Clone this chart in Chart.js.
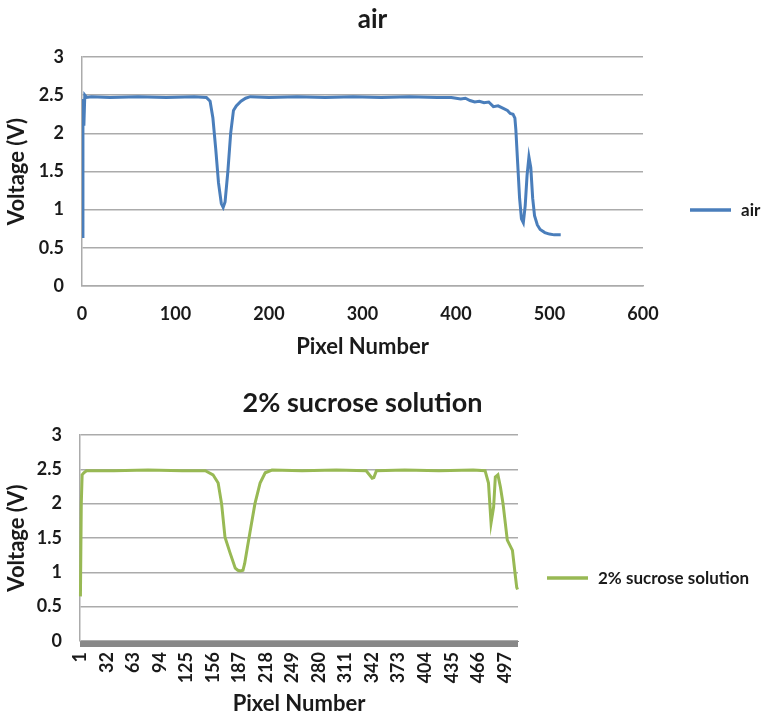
<!DOCTYPE html>
<html>
<head>
<meta charset="utf-8">
<script src="https://cdn.jsdelivr.net/npm/chart.js@4.4.1/dist/chart.umd.min.js"></script>
<style>
    html, body { margin: 0; padding: 0; background: #fff; }
    .wrap { position: absolute; left: 0; width: 765px; }
</style>
</head>
<body>
<div class="wrap" style="top:0;height:360px"><canvas id="grafikHava"></canvas></div>
<div class="wrap" style="top:360px;height:357px"><canvas id="grafikSukroz"></canvas></div>
<script>
// --- veriler ---
const voltTicks = [0, 0.5, 1, 1.5, 2, 2.5, 3];
const pixelTicks = [0, 100, 200, 300, 400, 500, 600];

// hava (air) egrisi: piksel numarasi / voltaj
const airPixel = [0, 1, 2, 3, 5, 10, 30, 60, 90, 120, 133, 137, 140, 143, 146, 149, 151, 153, 156, 159, 162, 165, 170, 175, 180,
    200, 230, 260, 290, 320, 350, 380, 395, 405, 410, 415, 420, 425, 430, 435, 440, 445, 450, 455, 458, 461, 463, 464, 466, 468,
    470, 472, 474, 476, 478, 480, 482, 484, 487, 490, 495, 500, 505, 512];
const airVoltage = [0.65, 2.45, 2.1, 2.5, 2.47, 2.48, 2.47, 2.48, 2.47, 2.48, 2.47, 2.42, 2.2, 1.8, 1.35, 1.08, 1.03, 1.1, 1.5, 2.0, 2.3, 2.36, 2.42, 2.46, 2.48,
    2.47, 2.48, 2.47, 2.48, 2.47, 2.48, 2.47, 2.47, 2.45, 2.46, 2.43, 2.41, 2.42, 2.4, 2.41, 2.35, 2.36, 2.33, 2.3, 2.26, 2.25, 2.2, 2.05, 1.6, 1.15,
    0.88, 0.83, 1.05, 1.45, 1.69, 1.55, 1.15, 0.92, 0.8, 0.74, 0.7, 0.68, 0.67, 0.67];

// %2 sukroz cozeltisi: kategori ekseni 1..512
const sucroseCategories = Array.from({ length: 512 }, (_, i) => String(i + 1));
const sucroseTickLabels = ['1', '32', '63', '94', '125', '156', '187', '218', '249', '280', '311', '342', '373', '404', '435', '466', '497'];
const sucrosePixel = [1, 2, 3, 5, 8, 40, 80, 120, 147, 156, 162, 166, 170, 176, 182, 185, 188, 191, 193, 196, 199, 205, 211, 217, 225,
    260, 300, 335, 342, 344, 347, 380, 420, 460, 474, 478, 481, 484, 486, 489, 492, 495, 500, 506, 509, 511, 512];
const sucroseVoltage = [0.65, 2.0, 2.42, 2.45, 2.48, 2.48, 2.49, 2.48, 2.48, 2.42, 2.3, 2.0, 1.51, 1.28, 1.06, 1.03, 1.02, 1.03, 1.13, 1.35, 1.57, 2.0, 2.3, 2.45, 2.49,
    2.48, 2.49, 2.48, 2.37, 2.38, 2.48, 2.49, 2.48, 2.49, 2.48, 2.3, 1.72, 1.95, 2.39, 2.42, 2.24, 2.0, 1.47, 1.32, 0.99, 0.78, 0.75];

const GRID = '#ababab';
Chart.defaults.font.family = 'Lato';
Chart.defaults.color = '#1a1a1a';
Chart.defaults.animation = false;

// sag taraftaki tek satirlik gösterge
const miniLegend = {
    id: 'miniLegend',
    afterDraw(chart, args, opts) {
        const ds = chart.data.datasets[0];
        const c = chart.ctx;
        c.save();
        c.strokeStyle = ds.borderColor;
        c.lineWidth = 3.5;
        c.beginPath();
        c.moveTo(opts.x, opts.y);
        c.lineTo(opts.x + 41, opts.y);
        c.stroke();
        c.fillStyle = '#1a1a1a';
        c.font = 'bold 17px Lato';
        c.textBaseline = 'middle';
        c.fillText(ds.label, opts.x + 51, opts.y + 1);
        c.restore();
    }
};

function yAxis(width) {
    return {
        min: 0, max: 3,
        afterBuildTicks: s => { s.ticks = voltTicks.map(v => ({ value: v })); },
        afterFit: s => { s.width = width; },
        ticks: { font: { size: 18, weight: 'bold' }, padding: 18, callback: v => String(v) },
        grid: { color: GRID, lineWidth: 1.5, drawTicks: false },
        border: { color: GRID, width: 1.5 },
        title: { display: true, text: 'Voltage (V)', font: { size: 22, weight: 'bold' }, padding: { top: 4, bottom: 0 } }
    };
}

// sagda gösterge icin bos yer ayiran gorunmez eksen
function spacer(width) {
    return {
        position: 'right', min: 0, max: 1,
        afterFit: s => { s.width = width; },
        ticks: { display: false },
        grid: { drawOnChartArea: false, drawTicks: false },
        border: { display: false }
    };
}

// 1. HAVA GRAFIGI
new Chart(document.getElementById('grafikHava'), {
    type: 'line',
    data: {
        datasets: [{
            label: 'air',
            data: airPixel.map((p, i) => ({ x: p, y: airVoltage[i] })),
            borderColor: '#4a7ebb',
            borderWidth: 3,
            pointRadius: 0,
            tension: 0
        }]
    },
    options: {
        responsive: true,
        maintainAspectRatio: false,
        layout: { padding: { left: 0, right: 20, top: 4, bottom: 0 } },
        plugins: {
            legend: { display: false },
            tooltip: { enabled: false },
            title: { display: true, text: 'air', font: { size: 26, weight: 'bold' }, padding: { top: 0, bottom: 21.8 } },
            miniLegend: { x: 690, y: 210 }
        },
        scales: {
            x: {
                type: 'linear', min: 0, max: 600,
                afterBuildTicks: s => { s.ticks = pixelTicks.map(v => ({ value: v })); },
                afterFit: s => { s.height = 74; },
                ticks: { font: { size: 18, weight: 'bold' }, padding: 9 },
                grid: { display: false },
                border: { color: GRID, width: 1.5 },
                title: { display: true, text: 'Pixel Number', font: { size: 22, weight: 'bold' }, padding: { top: 4, bottom: 0 } }
            },
            y: yAxis(82),
            sag: spacer(102)
        }
    },
    plugins: [miniLegend]
});

// 2. SUKROZ GRAFIGI
new Chart(document.getElementById('grafikSukroz'), {
    type: 'line',
    data: {
        labels: sucroseCategories,
        datasets: [{
            label: '2% sucrose solution',
            data: sucrosePixel.map((p, i) => ({ x: String(p), y: sucroseVoltage[i] })),
            borderColor: '#98b954',
            borderWidth: 3,
            pointRadius: 0,
            tension: 0
        }]
    },
    options: {
        responsive: true,
        maintainAspectRatio: false,
        layout: { padding: { left: 0, right: 40, top: 0, bottom: 0 } },
        plugins: {
            legend: { display: false },
            tooltip: { enabled: false },
            title: { display: true, text: '2% sucrose solution', font: { size: 27, weight: 'bold' }, padding: { top: 26.8, bottom: 15.8 } },
            miniLegend: { x: 547, y: 218 }
        },
        scales: {
            x: {
                type: 'category',
                offset: true,
                afterFit: s => { s.height = 76; },
                ticks: {
                    autoSkip: false, minRotation: 90, maxRotation: 90, padding: 5,
                    font: { size: 18, weight: 'bold' },
                    callback: function (v) {
                        const lab = this.getLabelForValue(v);
                        return sucroseTickLabels.includes(lab) ? lab : '';
                    }
                },
                grid: { drawOnChartArea: false, drawTicks: true, tickLength: 6, color: '#888888', lineWidth: 1 },
                border: { color: '#888888', width: 1 },
                title: { display: true, text: 'Pixel Number', font: { size: 22, weight: 'bold' }, padding: { top: 4, bottom: 0 } }
            },
            y: yAxis(80),
            sag: spacer(207)
        }
    },
    plugins: [miniLegend]
});
</script>
</body>
</html>
